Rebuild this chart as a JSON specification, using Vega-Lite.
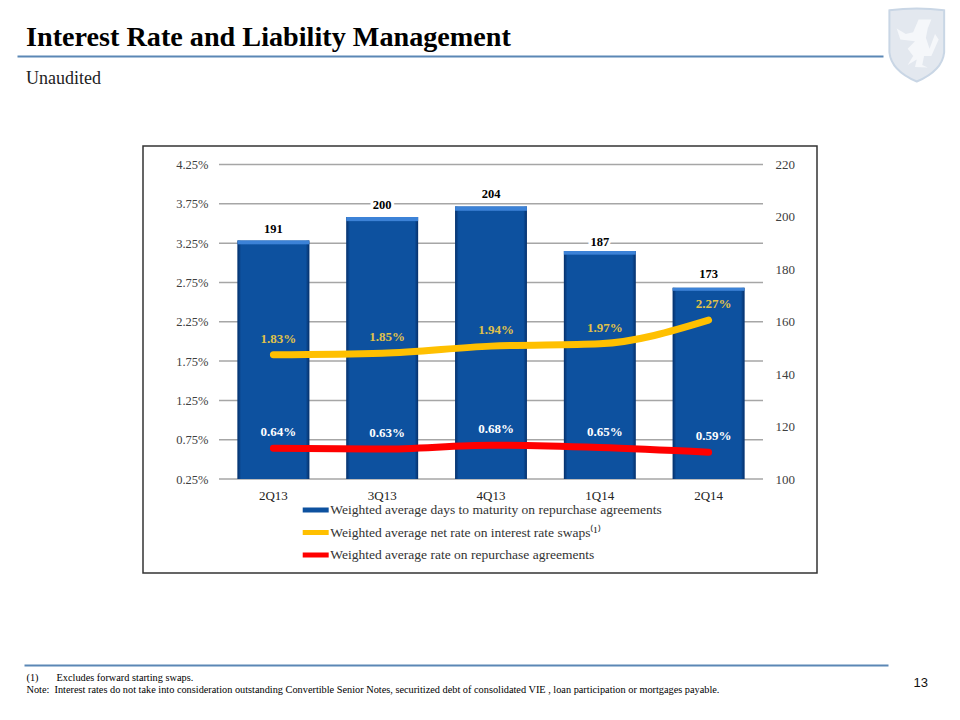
{
"$schema":"https://vega.github.io/schema/vega-lite/v6.json",
"width":674,"height":427,
"autosize":{"type":"none"},
"padding":{"left":143,"top":146,"right":143,"bottom":147},
"background":"white",
"config":{"view":{"stroke":"#333333","strokeWidth":1.5},"font":"Liberation Serif"},
"title":{"text":"Interest Rate and Liability Management","subtitle":"Unaudited","anchor":"start","frame":"group","dx":-117,"offset":-85,"font":"Liberation Serif","fontSize":28.2,"fontWeight":"bold","color":"#000000","subtitleFont":"Liberation Serif","subtitleFontSize":18,"subtitleColor":"#222222","subtitlePadding":18},
"datasets":{
 "q":[
  {"quarter":"2Q13","days":191,"swap":1.83,"repo":0.64,"swapLabel":"1.83%","repoLabel":"0.64%"},
  {"quarter":"3Q13","days":200,"swap":1.85,"repo":0.63,"swapLabel":"1.85%","repoLabel":"0.63%"},
  {"quarter":"4Q13","days":204,"swap":1.94,"repo":0.68,"swapLabel":"1.94%","repoLabel":"0.68%"},
  {"quarter":"1Q14","days":187,"swap":1.97,"repo":0.65,"swapLabel":"1.97%","repoLabel":"0.65%"},
  {"quarter":"2Q14","days":173,"swap":2.27,"repo":0.59,"swapLabel":"2.27%","repoLabel":"0.59%"}],
 "ticks":[{"t":0.25},{"t":0.75},{"t":1.25},{"t":1.75},{"t":2.25},{"t":2.75},{"t":3.25},{"t":3.75},{"t":4.25}]
},
"resolve":{"scale":{"x":"independent","y":"independent"}},
"layer":[
 {"data":{"values":[{"v":0}]},"mark":{"type":"rule","opacity":0},
  "encoding":{"x":{"field":"v","type":"quantitative","scale":{"domain":[0,1],"range":[-126,740]},
   "axis":{"orient":"top","offset":90,"domainColor":"#5B87B5","domainWidth":2,"labels":false,"ticks":false,"grid":false,"title":null}}}},
 {"data":{"values":[{"v":0}]},"mark":{"type":"rule","opacity":0},
  "encoding":{"x":{"field":"v","type":"quantitative","scale":{"domain":[0,1],"range":[-119,745]},
   "axis":{"orient":"bottom","offset":92,"domainColor":"#5B87B5","domainWidth":2,"labels":false,"ticks":false,"grid":false,
    "title":["(1)\u00a0\u00a0\u00a0\u00a0\u00a0\u00a0\u00a0Excludes forward starting swaps.","Note:\u00a0\u00a0Interest rates do not take into consideration outstanding Convertible Senior Notes, securitized debt of consolidated VIE , loan participation or mortgages payable."],
    "titleFont":"Liberation Serif","titleFontSize":10.3,"titleFontWeight":"normal","titleColor":"#000000","titleAlign":"left","titleBaseline":"top","titleAnchor":"start","titleX":-117,"titleY":7,"titleLineHeight":12}}}},
 {"data":{"values":[{"v":0}]},"mark":{"type":"rule","opacity":0},
  "encoding":{"x":{"field":"v","type":"quantitative","scale":{"domain":[0,1],"range":[0,674]},
   "axis":{"orient":"bottom","offset":92,"domain":false,"labels":false,"ticks":false,"grid":false,"title":"13",
    "titleFont":"Liberation Sans","titleFontSize":13,"titleFontWeight":"normal","titleColor":"#111111","titleAlign":"left","titleBaseline":"middle","titleX":770,"titleY":17}}}},
 {"data":{"values":[{"logo":"shield"}]},
  "layer":[
   {"mark":{"type":"point","filled":true,"opacity":1,"size":5329,"color":"#E3E8EF","stroke":"#C9D6E5","strokeWidth":2,"shape":"M-0.75,-0.95 Q0,-1.05 0.75,-0.95 L0.75,0.2 Q0.7,0.7 0,1 Q-0.7,0.7 -0.75,0.2 Z"}},
   {"mark":{"type":"point","filled":true,"opacity":1,"size":5329,"color":"#F5F7FA","strokeWidth":0,"shape":"M-0.25,0.55 L-0.1,0.3 L-0.25,0.1 L-0.05,-0.1 L-0.45,-0.15 L-0.55,-0.45 L-0.3,-0.3 L-0.1,-0.35 L0.05,-0.7 L0.4,-0.7 L0.3,-0.45 L0.25,-0.2 L0.35,0.1 L0.5,-0.3 L0.6,-0.15 L0.4,0.3 L0.2,0.3 L0.15,0.55 L0.3,0.62 L-0.05,0.6 L0,0.4 Z"}}
  ],
  "encoding":{
   "x":{"datum":1.039,"type":"quantitative","scale":{"domain":[0,1],"range":[-126,740]},"axis":null},
   "y":{"datum":5.77,"type":"quantitative","scale":{"domain":[0.25,4.25],"range":[333,18.5]},"axis":null}}},
 {"data":{"name":"ticks"},"mark":{"type":"rule","color":"#A6A6A6","strokeWidth":1.5},
  "encoding":{
   "x":{"datum":0,"type":"quantitative","scale":{"domain":[0,1],"range":[76,620]},"axis":null},
   "x2":{"datum":1},
   "y":{"field":"t","type":"quantitative","scale":{"domain":[0.25,4.25],"range":[333,18.5]},
    "axis":{"orient":"left","offset":-76,"values":[0.25,0.75,1.25,1.75,2.25,2.75,3.25,3.75,4.25],"labelExpr":"format(datum.value,'.2f')+'%'","domain":false,"ticks":false,"grid":false,"title":null,"labelFont":"Liberation Serif","labelFontSize":12.5,"labelColor":"#404040","labelPadding":11}}}},
 {"data":{"name":"q"},
  "encoding":{
   "x":{"field":"quarter","type":"nominal","sort":null,"scale":{"type":"band","domain":["2Q13","3Q13","4Q13","1Q14","2Q14"],"range":[76,620],"paddingInner":0.34,"paddingOuter":0.17},
    "axis":{"orient":"bottom","offset":-94,"domain":false,"ticks":false,"grid":false,"title":null,"labelAngle":0,"labelFont":"Liberation Serif","labelFontSize":13,"labelColor":"#222222","labelPadding":10}},
   "y":{"field":"days","type":"quantitative","scale":{"domain":[100,220],"range":[333,18.5]},
    "axis":{"orient":"right","offset":-54,"values":[100,120,140,160,180,200,220],"domain":false,"ticks":false,"grid":false,"title":null,"labelFont":"Liberation Serif","labelFontSize":13,"labelColor":"#404040","labelPadding":12}}},
  "layer":[
   {"mark":{"type":"bar"},"encoding":{"y2":{"datum":100},"color":{"datum":"Weighted average days to maturity on repurchase agreements"}}},
   {"mark":{"type":"bar","fill":{"gradient":"linear","x1":0,"x2":1,"y1":0,"y2":0,"stops":[{"offset":0,"color":"rgba(0,25,70,0.6)"},{"offset":0.05,"color":"rgba(0,25,70,0)"},{"offset":0.95,"color":"rgba(0,25,70,0)"},{"offset":1,"color":"rgba(0,25,70,0.6)"}]}},"encoding":{"y2":{"datum":100}}},
   {"mark":{"type":"bar","fill":{"gradient":"linear","x1":0,"x2":0,"y1":0,"y2":1,"stops":[{"offset":0,"color":"rgba(60,130,215,1)"},{"offset":0.014,"color":"rgba(60,130,215,1)"},{"offset":0.018,"color":"rgba(60,130,215,0)"},{"offset":1,"color":"rgba(60,130,215,0)"}]}},"encoding":{"y2":{"datum":100}}},
   {"transform":[{"filter":"datum.days==200"}],"mark":{"type":"text","font":"Liberation Serif","fontSize":12.5,"fontWeight":"bold","baseline":"middle","dy":-12,"stroke":"white","strokeWidth":6,"fill":"white"},"encoding":{"text":{"field":"days","type":"quantitative"}}},
   {"transform":[{"filter":"datum.days==187"}],"mark":{"type":"text","font":"Liberation Serif","fontSize":12.5,"fontWeight":"bold","baseline":"middle","dy":-9,"stroke":"white","strokeWidth":6,"fill":"white"},"encoding":{"text":{"field":"days","type":"quantitative"}}},
   {"transform":[{"filter":"datum.days!=187 && datum.days!=173"}],"mark":{"type":"text","font":"Liberation Serif","fontSize":12.5,"fontWeight":"bold","baseline":"middle","dy":-12,"fill":"#000000"},"encoding":{"text":{"field":"days","type":"quantitative"}}},
   {"transform":[{"filter":"datum.days==187"}],"mark":{"type":"text","font":"Liberation Serif","fontSize":12.5,"fontWeight":"bold","baseline":"middle","dy":-9,"fill":"#000000"},"encoding":{"text":{"field":"days","type":"quantitative"}}},
   {"transform":[{"filter":"datum.days==173"}],"mark":{"type":"text","font":"Liberation Serif","fontSize":12.5,"fontWeight":"bold","baseline":"middle","dy":-14,"fill":"#000000"},"encoding":{"text":{"field":"days","type":"quantitative"}}}
  ]},
 {"data":{"name":"q"},
  "encoding":{
   "x":{"field":"quarter","type":"nominal","sort":null,"scale":{"type":"band","domain":["2Q13","3Q13","4Q13","1Q14","2Q14"],"range":[76,620],"paddingInner":0.34,"paddingOuter":0.17},"axis":null},
   "y":{"type":"quantitative","scale":{"domain":[0.25,4.25],"range":[333,18.5]},"axis":null}},
  "layer":[
   {"mark":{"type":"line","interpolate":"monotone","strokeWidth":7,"strokeCap":"round"},"encoding":{"y":{"field":"swap","type":"quantitative"},"color":{"datum":"Weighted average net rate on interest rate swaps\u207d\u00b9\u207e"}}},
   {"mark":{"type":"line","interpolate":"monotone","strokeWidth":7,"strokeCap":"round"},"encoding":{"y":{"field":"repo","type":"quantitative"},"color":{"datum":"Weighted average rate on repurchase agreements"}}},
   {"mark":{"type":"text","font":"Liberation Serif","fontSize":13,"fontWeight":"bold","baseline":"middle","dy":-16,"dx":5,"fill":"#E0C24A"},"encoding":{"y":{"field":"swap","type":"quantitative"},"text":{"field":"swapLabel","type":"nominal"}}},
   {"mark":{"type":"text","font":"Liberation Serif","fontSize":13,"fontWeight":"bold","baseline":"middle","dy":-16,"dx":5,"fill":"#FFFFFF"},"encoding":{"y":{"field":"repo","type":"quantitative"},"text":{"field":"repoLabel","type":"nominal"}}}
  ]}
],
"encoding":{"color":{"scale":{"domain":["Weighted average days to maturity on repurchase agreements","Weighted average net rate on interest rate swaps\u207d\u00b9\u207e","Weighted average rate on repurchase agreements"],"range":["#0D519F","#FFC000","#FF0000"]},
 "legend":{"orient":"none","legendX":165.7,"legendY":357,"title":null,"symbolType":"M-3,0 L3,0","symbolSize":75,"symbolStrokeWidth":5,"labelFont":"Liberation Serif","labelFontSize":13.5,"labelColor":"#333333","labelLimit":450,"rowPadding":2.5,"labelOffset":7.6,"symbolOpacity":1}}}
}
